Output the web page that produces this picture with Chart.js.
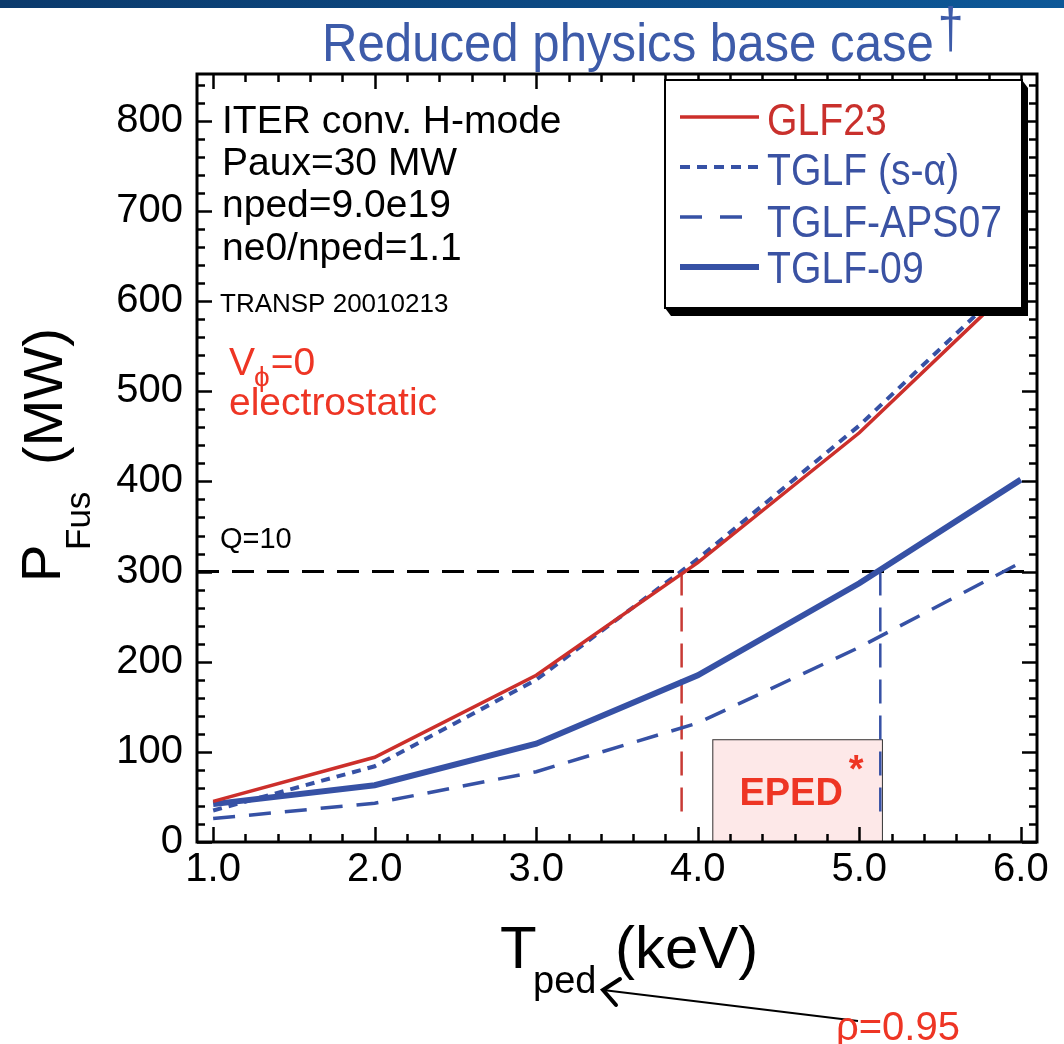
<!DOCTYPE html>
<html>
<head>
<meta charset="utf-8">
<script src="https://cdn.jsdelivr.net/npm/chart.js@4.4.1/dist/chart.umd.min.js"></script>
<style>
  html, body { margin: 0; padding: 0; background: #fff; }
  canvas { display: block; }
</style>
</head>
<body>
<canvas id="chart" width="1064" height="1044"></canvas>
<script>
(function () {
  'use strict';

  // pedestal temperature (keV) and fusion power (MW) per model
  var T_PED = [1, 2, 3, 4, 5, 6];
  var GLF23 = [45, 94, 185, 310, 454, 625];
  var TGLF_SA = [35, 84, 180, 314, 462, 632];
  var TGLF_APS07 = [26, 43, 78, 132, 216, 310];
  var TGLF_09 = [42, 63, 109, 185, 287, 402];

  var SERIES_NAMES = ['GLF23', 'TGLF (s-\u03b1)', 'TGLF-APS07', 'TGLF-09'];

  var Q10_POWER = 300;
  var CROSS_GLF23 = 3.9;
  var CROSS_TGLF09 = 5.13;
  var DROP_END = 22;
  var EPED_T = [4.09, 5.14];
  var EPED_P = [0, 114];

  var X_RANGE = [0.9, 6.1];
  var Y_RANGE = [0, 852];

  var RED = '#cc2f2b';
  var BLUE = '#3651a5';
  var NOTE_RED = '#ee3524';
  var FONT = '"Liberation Sans", Arial, Helvetica, sans-serif';

  function pts(xs, ys) {
    return xs.map(function (x, i) { return { x: x, y: ys[i] }; });
  }

  function txt(ctx, s, x, y, size, color, o) {
    o = o || {};
    ctx.save();
    ctx.font = (o.weight || 'normal') + ' ' + size + 'px ' + FONT;
    ctx.fillStyle = color;
    ctx.textBaseline = 'alphabetic';
    ctx.textAlign = o.align || 'left';
    ctx.translate(x, y);
    if (o.rot) ctx.rotate(o.rot);
    if (o.sx) ctx.scale(o.sx, 1);
    ctx.fillText(s, 0, 0);
    var w = ctx.measureText(s).width * (o.sx || 1);
    ctx.restore();
    return w;
  }

  function line(ctx, x1, y1, x2, y2) {
    ctx.beginPath();
    ctx.moveTo(x1, y1);
    ctx.lineTo(x2, y2);
    ctx.stroke();
  }

  var pagePlugin = {
    id: 'page',
    beforeDraw: function (chart) {
      var ctx = chart.ctx;
      ctx.save();
      ctx.fillStyle = '#fff';
      ctx.fillRect(0, 0, chart.width, chart.height);
      var g = ctx.createLinearGradient(0, 0, chart.width, 0);
      g.addColorStop(0, '#0b3a6c');
      g.addColorStop(1, '#0d5898');
      ctx.fillStyle = g;
      ctx.fillRect(0, 0, chart.width, 8);
      ctx.restore();
    },
    beforeDatasetsDraw: function (chart) {
      // EPED prediction window
      var ctx = chart.ctx, xs = chart.scales.x, ys = chart.scales.y;
      var x1 = xs.getPixelForValue(EPED_T[0]), x2 = xs.getPixelForValue(EPED_T[1]);
      var y1 = ys.getPixelForValue(EPED_P[1]), y2 = ys.getPixelForValue(EPED_P[0]);
      ctx.save();
      ctx.fillStyle = '#fde8e8';
      ctx.fillRect(x1, y1, x2 - x1, y2 - y1);
      ctx.strokeStyle = '#333';
      ctx.lineWidth = 1;
      ctx.strokeRect(x1 + 0.5, y1 + 0.5, x2 - x1, y2 - y1);
      var w = txt(ctx, 'EPED', (x1 + x2) / 2 - 6, 805, 38, NOTE_RED, { weight: 'bold', align: 'center' });
      txt(ctx, '*', (x1 + x2) / 2 - 6 + w / 2 + 6, 782, 38, NOTE_RED, { weight: 'bold' });
      ctx.restore();
    },
    afterDatasetsDraw: function (chart) {
      var ctx = chart.ctx, a = chart.chartArea, xs = chart.scales.x, ys = chart.scales.y;
      ctx.save();
      ctx.strokeStyle = '#000';
      ctx.lineWidth = 2.5;
      // inward ticks on all four sides
      var v, p, len;
      for (v = 1; v <= 6.0001; v += 0.2) {
        p = Math.round(xs.getPixelForValue(v)) + 0.5;
        len = Math.abs(v - Math.round(v)) < 1e-6 ? 15 : 8;
        line(ctx, p, a.bottom, p, a.bottom - len);
        line(ctx, p, a.top, p, a.top + len);
      }
      for (v = 0; v <= 840; v += 20) {
        p = Math.round(ys.getPixelForValue(v)) + 0.5;
        len = v % 100 === 0 ? 15 : 8;
        line(ctx, a.left, p, a.left + len, p);
        line(ctx, a.right, p, a.right - len, p);
      }
      ctx.lineWidth = 3;
      ctx.strokeRect(a.left, a.top, a.right - a.left, a.bottom - a.top);

      // legend box with drop shadow
      var bx = 665, by = 80, bw = 357, bh = 228;
      ctx.fillStyle = '#000';
      ctx.beginPath();
      ctx.moveTo(bx + bw, by);
      ctx.lineTo(bx + bw + 6, by + 8);
      ctx.lineTo(bx + bw + 6, by + bh + 8);
      ctx.lineTo(bx + 6, by + bh + 8);
      ctx.lineTo(bx, by + bh);
      ctx.closePath();
      ctx.fill();
      ctx.fillStyle = '#fff';
      ctx.fillRect(bx, by, bw, bh);
      ctx.lineWidth = 2;
      ctx.strokeRect(bx, by, bw, bh);

      var rowsY = [117, 167, 217, 267];
      var textY = [135, 185, 237, 283];
      var dashes = [[], [10, 7], [22, 18], []];
      for (var i = 0; i < 4; i++) {
        var ds = chart.data.datasets[i];
        ctx.save();
        ctx.strokeStyle = ds.borderColor;
        ctx.lineWidth = ds.borderWidth;
        ctx.setLineDash(dashes[i]);
        line(ctx, 680, rowsY[i], 759, rowsY[i]);
        ctx.restore();
        txt(ctx, SERIES_NAMES[i], 767, textY[i], 44, i === 0 ? '#c9302c' : '#3a52a3', { sx: 0.89 });
      }
      ctx.restore();
    },
    afterDraw: function (chart) {
      var ctx = chart.ctx;
      // title
      var w = txt(ctx, 'Reduced physics base case', 322, 61, 54, '#3d5ba9', { sx: 0.91 });
      txt(ctx, '\u2020', 322 + w + 4, 48, 58, '#3d5ba9', { sx: 0.8 });

      // run description
      txt(ctx, 'ITER conv. H-mode', 222, 133, 39, '#000');
      txt(ctx, 'Paux=30 MW', 222, 175, 39, '#000');
      txt(ctx, 'nped=9.0e19', 222, 217, 39, '#000');
      txt(ctx, 'ne0/nped=1.1', 222, 260, 39, '#000');
      txt(ctx, 'TRANSP 20010213', 220, 312, 26, '#000');
      var vw = txt(ctx, 'V', 229, 375, 39, NOTE_RED);
      var pw = txt(ctx, '\u03d5', 229 + vw - 1, 386, 28, NOTE_RED);
      txt(ctx, '=0', 229 + vw + pw, 375, 39, NOTE_RED);
      txt(ctx, 'electrostatic', 229, 415, 39, NOTE_RED);
      txt(ctx, 'Q=10', 220, 548, 29, '#000');

      // axis titles
      var up = -Math.PI / 2;
      txt(ctx, 'P', 60, 582, 56, '#000', { rot: up });
      txt(ctx, 'Fus', 90, 550, 35, '#000', { rot: up });
      txt(ctx, '(MW)', 62, 465, 56, '#000', { rot: up });
      txt(ctx, 'T', 500, 968, 60, '#000');
      txt(ctx, 'ped', 533, 993, 38, '#000');
      txt(ctx, '(keV)', 615, 968, 60, '#000');

      // rho annotation with arrow
      ctx.save();
      ctx.strokeStyle = '#000';
      ctx.lineWidth = 2;
      line(ctx, 858, 1021, 603, 990);
      ctx.lineWidth = 4;
      ctx.lineCap = 'round';
      ctx.beginPath();
      ctx.moveTo(620, 979);
      ctx.lineTo(603, 990);
      ctx.lineTo(616, 1005);
      ctx.stroke();
      ctx.restore();
      txt(ctx, '\u03c1=0.95', 836, 1040, 40, NOTE_RED);
    }
  };

  new Chart(document.getElementById('chart'), {
    type: 'line',
    data: {
      datasets: [
        { label: SERIES_NAMES[0], data: pts(T_PED, GLF23), borderColor: RED, borderWidth: 3.5 },
        { label: SERIES_NAMES[1], data: pts(T_PED, TGLF_SA), borderColor: BLUE, borderWidth: 4, borderDash: [9, 7] },
        { label: SERIES_NAMES[2], data: pts(T_PED, TGLF_APS07), borderColor: BLUE, borderWidth: 3.5, borderDash: [22, 14] },
        { label: SERIES_NAMES[3], data: pts(T_PED, TGLF_09), borderColor: BLUE, borderWidth: 6 },
        { label: 'Q=10', data: pts(X_RANGE, [Q10_POWER, Q10_POWER]), borderColor: '#000', borderWidth: 3, borderDash: [22, 13] },
        { label: 'GLF23 Q=10', data: pts([CROSS_GLF23, CROSS_GLF23], [Q10_POWER, DROP_END]), borderColor: '#c83a35', borderWidth: 2.5, borderDash: [24, 12] },
        { label: 'TGLF-09 Q=10', data: pts([CROSS_TGLF09, CROSS_TGLF09], [Q10_POWER, DROP_END]), borderColor: BLUE, borderWidth: 2.5, borderDash: [24, 12] }
      ]
    },
    options: {
      responsive: false,
      animation: false,
      devicePixelRatio: 1,
      layout: { padding: { top: 74, right: 27, left: 0, bottom: 0 } },
      elements: { point: { radius: 0 }, line: { tension: 0, borderCapStyle: 'butt' } },
      plugins: { legend: { display: false }, tooltip: { enabled: false } },
      scales: {
        x: {
          type: 'linear',
          min: X_RANGE[0],
          max: X_RANGE[1],
          grid: { display: false, drawTicks: false },
          border: { display: false },
          ticks: {
            stepSize: 1,
            includeBounds: false,
            padding: 4,
            color: '#000',
            font: { family: FONT, size: 40 },
            callback: function (v) { return Number(v).toFixed(1); }
          },
          afterFit: function (s) { s.height = 202; }
        },
        y: {
          min: Y_RANGE[0],
          max: Y_RANGE[1],
          grid: { display: false, drawTicks: false },
          border: { display: false },
          ticks: {
            stepSize: 100,
            includeBounds: false,
            padding: 14,
            color: '#000',
            font: { family: FONT, size: 40 }
          },
          afterFit: function (s) { s.width = 197; }
        }
      }
    },
    plugins: [pagePlugin]
  });
})();
</script>
</body>
</html>
